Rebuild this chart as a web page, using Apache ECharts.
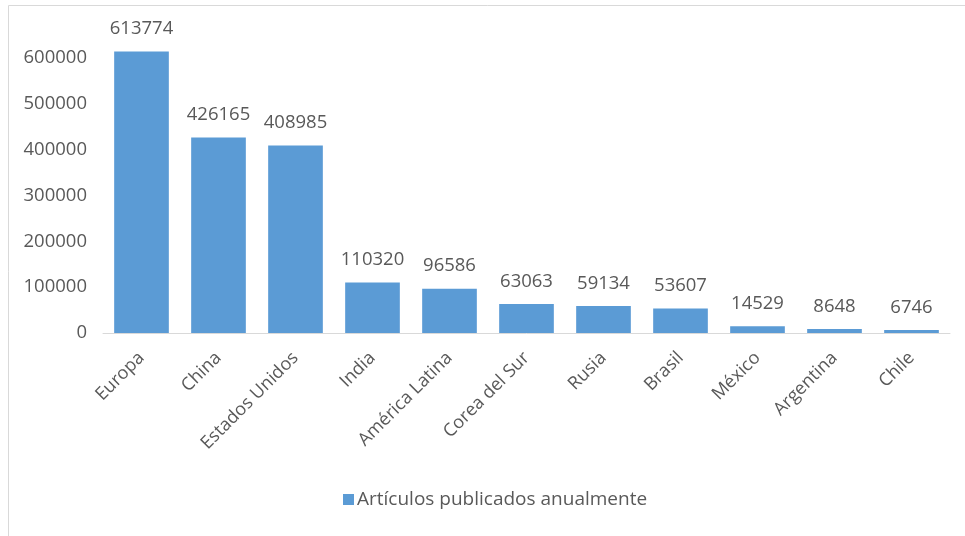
<!DOCTYPE html>
<html>
<head>
<meta charset="utf-8">
<script src="https://cdn.jsdelivr.net/npm/echarts@6/dist/echarts.min.js"></script>
<style>
  html, body { margin: 0; padding: 0; background: #fff; }
  #chart { width: 965px; height: 536px; }
</style>
</head>
<body>
<div id="chart"></div>
<script>
// Datos del gráfico
const categories = ['Europa', 'China', 'Estados Unidos', 'India', 'América Latina', 'Corea del Sur', 'Rusia', 'Brasil', 'México', 'Argentina', 'Chile'];
const articulos = [613774, 426165, 408985, 110320, 96586, 63063, 59134, 53607, 14529, 8648, 6746];
const seriesName = 'Artículos publicados anualmente';

const TEXT = '#595959';
const BAR = '#5b9bd5';
const LINE = '#d9d9d9';
const FONT = '"Open Sans", sans-serif';

const chart = echarts.init(document.getElementById('chart'));

chart.setOption({
  animation: false,
  textStyle: { fontFamily: FONT },
  graphic: [{
    type: 'rect',
    shape: { x: 8.5, y: 5.5, width: 1000, height: 600 },
    style: { fill: 'none', stroke: LINE, lineWidth: 1 },
    silent: true
  }],
  grid: { left: 103, right: 15, top: 12, bottom: 203 },
  legend: {
    left: 338,
    top: 485,
    itemWidth: 11,
    itemHeight: 11,
    itemGap: 6,
    icon: 'rect',
    textStyle: { color: TEXT, fontSize: 19, fontFamily: FONT, padding: [0, 0, 0, -2] },
    data: [seriesName]
  },
  xAxis: {
    type: 'category',
    data: categories,
    axisLine: { lineStyle: { color: LINE, width: 1 } },
    axisTick: { show: false },
    axisLabel: { color: TEXT, fontSize: 18, rotate: 45, interval: 0, margin: 22, fontFamily: FONT }
  },
  yAxis: {
    type: 'value',
    min: 0,
    max: 700000,
    interval: 100000,
    axisLine: { show: false },
    axisTick: { show: false },
    splitLine: { show: false },
    axisLabel: {
      color: TEXT,
      fontSize: 18.5,
      margin: 16,
      fontFamily: FONT,
      formatter: v => (v >= 700000 ? '' : String(v))
    }
  },
  series: [{
    name: seriesName,
    type: 'bar',
    data: articulos,
    barCategoryGap: '29%',
    itemStyle: { color: BAR },
    label: {
      show: true,
      position: 'top',
      distance: 13,
      color: TEXT,
      fontSize: 18.5,
      fontFamily: FONT
    }
  }]
});
</script>
</body>
</html>
